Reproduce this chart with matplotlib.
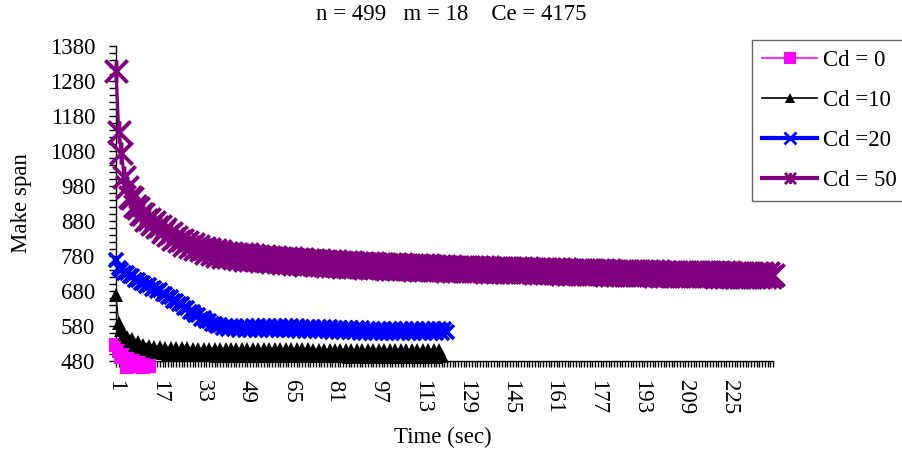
import matplotlib
matplotlib.use("Agg")
import matplotlib.pyplot as plt
from matplotlib.path import Path
from matplotlib.lines import Line2D
from matplotlib.ticker import MultipleLocator, FixedLocator

plt.rcParams['font.family'] = ['Liberation Serif', 'DejaVu Serif']

# Make span per time step (one value per category 1, 2, 3 ...)
cd0 = [526, 508, 492, 501, 463, 488, 466, 482, 468, 475, 464, 470, 466]

cd10 = [670, 590, 568, 556, 550, 538, 542, 527, 533, 519, 527, 513, 523, 509, 520, 506,
        519, 503, 518, 501, 517, 500, 517, 499, 516, 498, 516, 498, 515, 497, 515, 497,
        515, 496, 515, 496, 515, 495, 514, 495, 514, 495, 514, 495, 514, 495, 514, 495,
        514, 495, 514, 494, 514, 494, 513, 494, 513, 494, 513, 494, 513, 494, 513, 494,
        513, 494, 513, 493, 513, 493, 513, 493, 512, 493, 512, 493, 512, 493, 512, 493,
        512, 493, 512, 493, 512, 492, 512, 492, 512, 492, 512, 492, 512, 492, 512, 492,
        512, 492, 511, 492, 511, 492, 511, 492, 511, 492, 511, 492, 511, 492, 511, 492,
        511, 492, 511, 492, 511, 492, 511, 494]

cd20 = [770, 745, 740, 731, 731, 722, 722, 712, 712, 703, 704, 695, 696, 687, 689, 681,
        682, 672, 672, 662, 662, 652, 652, 642, 642, 632, 632, 621, 621, 611, 611, 601,
        602, 593, 594, 585, 587, 579, 582, 575, 580, 572, 579, 571, 578, 570, 578, 570,
        580, 570, 579, 569, 580, 569, 580, 568, 580, 569, 580, 569, 579, 569, 580, 568,
        579, 568, 579, 567, 578, 567, 578, 566, 577, 566, 577, 565, 576, 565, 576, 564,
        575, 563, 574, 563, 574, 562, 574, 562, 573, 561, 573, 561, 572, 561, 572, 560,
        572, 560, 572, 560, 571, 560, 571, 559, 571, 559, 571, 559, 571, 559, 571, 559,
        571, 559, 571, 559, 571, 559, 571, 559, 571, 563]

cd50 = [1310, 1135, 1075, 1005, 978, 950, 945, 922, 918, 900, 899, 884, 887, 872, 876, 862,
        866, 850, 856, 840, 845, 830, 835, 822, 827, 812, 820, 806, 813, 800, 808, 796,
        804, 790, 800, 785, 796, 780, 793, 778, 790, 776, 789, 774, 787, 772, 785, 770,
        786, 768, 782, 770, 781, 765, 780, 766, 778, 763, 777, 762, 775, 760, 774, 760,
        773, 758, 772, 757, 771, 755, 770, 756, 769, 754, 768, 753, 767, 752, 766, 752,
        765, 751, 764, 750, 763, 749, 762, 748, 761, 748, 760, 747, 760, 746, 759, 745,
        758, 745, 757, 744, 757, 744, 756, 743, 756, 742, 755, 742, 754, 741, 754, 741,
        753, 740, 753, 740, 752, 739, 752, 739, 751, 738, 751, 738, 750, 737, 750, 737,
        749, 737, 749, 736, 748, 736, 748, 735, 748, 735, 747, 735, 747, 734, 747, 734,
        746, 734, 746, 733, 745, 733, 745, 733, 744, 732, 744, 732, 744, 731, 743, 731,
        743, 731, 742, 730, 742, 730, 741, 730, 741, 729, 741, 729, 740, 728, 740, 728,
        740, 728, 739, 727, 739, 727, 738, 727, 738, 726, 738, 726, 737, 726, 737, 725,
        737, 725, 736, 725, 736, 724, 736, 724, 735, 724, 735, 724, 735, 723, 735, 723,
        734, 723, 734, 722, 734, 722, 734, 722, 733, 722, 733, 721, 733, 721, 733, 721,
        733, 721, 732, 721, 732, 720, 732, 720, 732, 720, 732, 720, 731, 720, 731, 720,
        727]

labels = ['Cd = 0', 'Cd =10', 'Cd =20', 'Cd = 50']
x_ticklabels = [1, 17, 33, 49, 65, 81, 97, 113, 129, 145, 161, 177, 193, 209, 225]
y_ticks = [480, 580, 680, 780, 880, 980, 1080, 1180, 1280, 1380]
n_categories = 241
fs = 16.5

# Excel style "star" marker: an X with a vertical bar
star = Path([(-1, -1), (1, 1), (-1, 1), (1, -1), (0, -1), (0, 1)],
            [Path.MOVETO, Path.LINETO] * 3)

fig = plt.figure(figsize=(9.02, 4.53), dpi=100)
ax = fig.add_axes([116 / 902, 92 / 453, 657 / 902, 315 / 453])

styles = [
    dict(color='#FF00FF', lw=0.8, marker='s', ms=10, mew=0),
    dict(color='black', lw=0.8, marker='^', ms=10, mew=0),
    dict(color='#0000FF', lw=2.3, marker='x', ms=10, mew=2.6),
    dict(color='#800080', lw=2.3, marker=star, ms=16, mew=2.8, mfc='none'),
]
for ys, st in zip([cd0, cd10, cd20, cd50], styles):
    xs = range(1, len(ys) + 1)
    ax.plot(xs, ys, clip_on=False, zorder=3, **st)

ax.set_xlim(1, n_categories)
ax.set_ylim(480, 1380)

for s in ['top', 'right']:
    ax.spines[s].set_visible(False)
for s in ['left', 'bottom']:
    ax.spines[s].set_linewidth(1)

ax.yaxis.set_major_locator(FixedLocator(y_ticks))
ax.yaxis.set_minor_locator(MultipleLocator(20))
ax.xaxis.set_major_locator(FixedLocator(x_ticklabels))
ax.xaxis.set_minor_locator(MultipleLocator(1))
ax.set_xticklabels([str(v) for v in x_ticklabels], rotation=-90)
ax.tick_params(axis='y', which='both', direction='out', length=5, width=1, pad=10, labelsize=fs)
ax.tick_params(axis='x', which='both', direction='out', length=4, width=1, pad=10, labelsize=fs)

fig.text(0.5, 1 - 15 / 453, 'n = 499   m = 18    Ce = 4175', ha='center', va='center', fontsize=fs)
fig.text(22 / 902, 1 - 203 / 453, 'Make span', rotation=90, ha='center', va='center', fontsize=fs)
fig.text(443 / 902, 1 - 437 / 453, 'Time (sec)', ha='center', va='center', fontsize=fs)

handles = [
    Line2D([], [], color='#FF00FF', lw=1.2, marker='s', ms=8, mew=0),
    Line2D([], [], color='black', lw=1.2, marker='^', ms=7, mew=0),
    Line2D([], [], color='#0000FF', lw=3, marker='x', ms=8, mew=2),
    Line2D([], [], color='#800080', lw=3, marker=star, ms=8, mew=2, mfc='none'),
]
leg = fig.legend(handles, labels, loc='upper left', bbox_to_anchor=(752 / 902, 1 - 40 / 453),
                 fontsize=fs, frameon=True, fancybox=False, borderpad=0.45,
                 labelspacing=0.82, handlelength=2.4, handletextpad=0.25, borderaxespad=0)
leg.get_frame().set_edgecolor('#404040')
leg.get_frame().set_linewidth(1)

fig.savefig('out.png', dpi=100)
